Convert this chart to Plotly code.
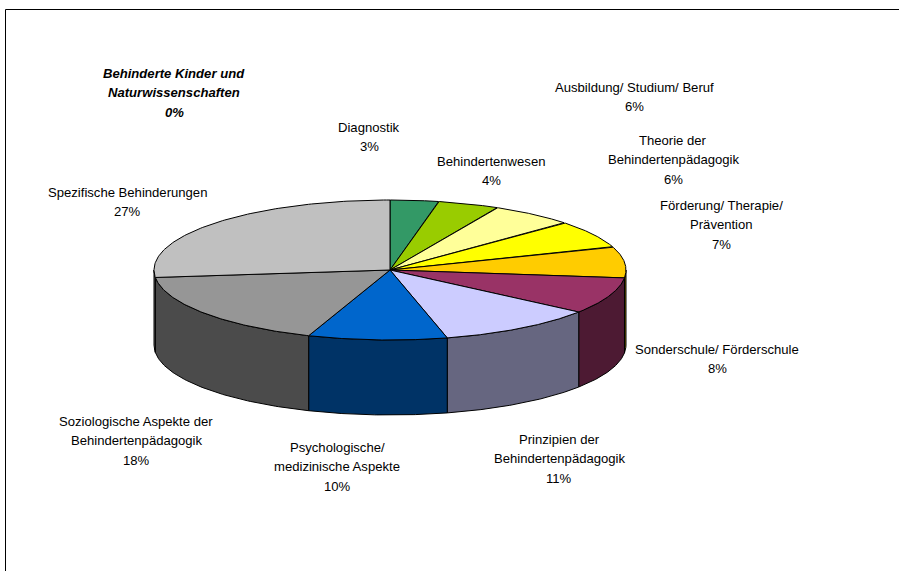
import numpy as np
import plotly.graph_objects as go

categories = ["Diagnostik", "Behindertenwesen", "Ausbildung/ Studium/ Beruf",
              "Theorie der<br>Behindertenpädagogik", "Förderung/ Therapie/<br>Prävention",
              "Sonderschule/ Förderschule", "Prinzipien der<br>Behindertenpädagogik",
              "Psychologische/<br>medizinische Aspekte",
              "Soziologische Aspekte der<br>Behindertenpädagogik",
              "Spezifische Behinderungen", "Behinderte Kinder und<br>Naturwissenschaften"]
values = [3.3, 4.2, 5.7, 6.4, 7.2, 8.45, 10.85, 9.5, 17.7, 26.7, 0.0]
top_colors = ["#339966", "#99CC00", "#FFFF99", "#FFFF00", "#FFCC00", "#993366",
              "#CCCCFF", "#0066CC", "#969696", "#C0C0C0", "#FFFFFF"]
side_colors = ["#1A4D33", "#4D6600", "#80804D", "#808000", "#806600", "#4D1A33",
               "#666680", "#003366", "#4B4B4B", "#606060", "#808080"]
percent_labels = ["3%", "4%", "6%", "6%", "7%", "8%", "11%", "10%", "18%", "27%", "0%"]
label_x = [369, 491, 634, 673, 721, 717, 559, 337, 136, 127.5, 174]
label_y = [127, 161, 87, 140, 205, 349, 439, 447, 421, 192, 73]

CX, CY, RX, RY, DEPTH = 390, 270, 236, 70, 75
LINE_GAP = 19.6


def pt(theta_deg):
    t = np.radians(theta_deg)
    return CX + RX * np.sin(t), CY - RY * np.cos(t)


fig = go.Figure()
edges = 3.6 * np.concatenate([[0], np.cumsum(values)])

# outer walls, only the visible front half
for i in range(len(values)):
    a, b = max(edges[i], 90), min(edges[i + 1], 270)
    if b <= a:
        continue
    th = np.linspace(a, b, 80)
    x, y = pt(th)
    fig.add_trace(go.Scatter(
        x=np.r_[x, x[::-1], x[0]], y=np.r_[y, y[::-1] + DEPTH, y[0]],
        mode="lines", fill="toself", fillcolor=side_colors[i],
        line=dict(color="black", width=1), hoverinfo="skip", showlegend=False))

# top faces
for i in range(len(values)):
    if values[i] <= 0:
        continue
    th = np.linspace(edges[i], edges[i + 1], 120)
    x, y = pt(th)
    fig.add_trace(go.Scatter(
        x=np.r_[CX, x, CX], y=np.r_[CY, y, CY],
        mode="lines", fill="toself", fillcolor=top_colors[i],
        line=dict(color="black", width=1), name=categories[i].replace("<br>", " "),
        hoverinfo="name", showlegend=False))

# labels
for i, cat in enumerate(categories):
    lines = cat.split("<br>") + [percent_labels[i]]
    special = values[i] == 0
    for j, line in enumerate(lines):
        fig.add_annotation(
            x=label_x[i], y=label_y[i] + j * LINE_GAP, text=line, showarrow=False,
            xanchor="center", yanchor="middle",
            font=dict(family="Liberation Sans", size=13.1, color="black",
                      weight="bold" if special else "normal",
                      style="italic" if special else "normal"))

# chart frame, open past the right and bottom picture edges
fig.add_shape(type="rect", x0=5.5, y0=9.5, x1=960, y1=640,
              line=dict(color="black", width=1), fillcolor="rgba(0,0,0,0)", layer="below")

fig.update_layout(
    width=899, height=571, margin=dict(l=0, r=0, t=0, b=0), autosize=False,
    paper_bgcolor="white", plot_bgcolor="white", showlegend=False,
    xaxis=dict(range=[0, 899], visible=False, fixedrange=True),
    yaxis=dict(range=[571, 0], visible=False, fixedrange=True),
)
fig.write_html("out.html", config={"displayModeBar": False},
               post_script="document.body.style.margin='0';document.body.style.overflow='hidden';")
